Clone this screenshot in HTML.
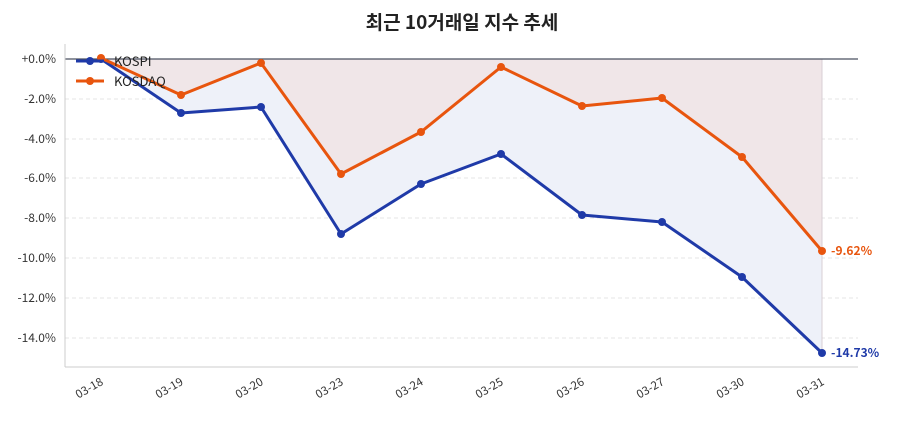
<!DOCTYPE html>
<html><head><meta charset="utf-8"><style>
body{margin:0;background:#fff}
svg text{font-family:"Noto Sans CJK KR","Liberation Sans",sans-serif}
</style></head><body>
<svg width="900" height="420" viewBox="0 0 900 420" xmlns="http://www.w3.org/2000/svg">
<text x="462" y="29" text-anchor="middle" font-size="19" font-weight="bold" fill="#222">최근 10거래일 지수 추세</text>
<g stroke="#e4e4e4" stroke-dasharray="4,3" stroke-width="1">
<line x1="65" x2="858" y1="99" y2="99"/><line x1="65" x2="858" y1="139" y2="139"/>
<line x1="65" x2="858" y1="178" y2="178"/><line x1="65" x2="858" y1="218" y2="218"/>
<line x1="65" x2="858" y1="258" y2="258"/><line x1="65" x2="858" y1="298" y2="298"/>
<line x1="65" x2="858" y1="338" y2="338"/>
</g>
<polygon fill="#eef1f9" points="101,59 101,59 181,113 261,107 341,234 421,184 501,154 582,215 662,222 742,277 822,353 822,59"/>
<polygon fill="#f0e6e8" points="101,59 101,58 181,95 261,63 341,174 421,132 501,67 582,106 662,98 742,157 822,251 822,59"/>
<line x1="822" x2="822" y1="59" y2="353" stroke="#d8cfd4" stroke-width="1"/>
<line x1="65" x2="858" y1="59" y2="59" stroke="#4a5060" stroke-width="1.2"/>
<line x1="65" x2="65" y1="44" y2="367" stroke="#ccc"/>
<line x1="65" x2="858" y1="367" y2="367" stroke="#ccc"/>
<g font-size="12" fill="#333" text-anchor="end">
<text x="56" y="63">+0.0%</text><text x="56" y="103">-2.0%</text><text x="56" y="143">-4.0%</text>
<text x="56" y="182">-6.0%</text><text x="56" y="222">-8.0%</text><text x="56" y="262">-10.0%</text>
<text x="56" y="302">-12.0%</text><text x="56" y="342">-14.0%</text>
</g>
<g font-size="11.5" fill="#333" text-anchor="end">
<text transform="translate(104,384) rotate(-30)">03-18</text>
<text transform="translate(184,384) rotate(-30)">03-19</text>
<text transform="translate(264,384) rotate(-30)">03-20</text>
<text transform="translate(344,384) rotate(-30)">03-23</text>
<text transform="translate(424,384) rotate(-30)">03-24</text>
<text transform="translate(504,384) rotate(-30)">03-25</text>
<text transform="translate(585,384) rotate(-30)">03-26</text>
<text transform="translate(665,384) rotate(-30)">03-27</text>
<text transform="translate(745,384) rotate(-30)">03-30</text>
<text transform="translate(825,384) rotate(-30)">03-31</text>
</g>
<polyline fill="none" stroke="#1f3aa8" stroke-width="3" stroke-linejoin="round" points="101,59 181,113 261,107 341,234 421,184 501,154 582,215 662,222 742,277 822,353"/>
<g fill="#1f3aa8"><circle cx="101" cy="59" r="4"/><circle cx="181" cy="113" r="4"/><circle cx="261" cy="107" r="4"/><circle cx="341" cy="234" r="4"/><circle cx="421" cy="184" r="4"/><circle cx="501" cy="154" r="4"/><circle cx="582" cy="215" r="4"/><circle cx="662" cy="222" r="4"/><circle cx="742" cy="277" r="4"/><circle cx="822" cy="353" r="4"/></g>
<polyline fill="none" stroke="#e8550e" stroke-width="3" stroke-linejoin="round" points="101,58 181,95 261,63 341,174 421,132 501,67 582,106 662,98 742,157 822,251"/>
<g fill="#e8550e"><circle cx="101" cy="58" r="4"/><circle cx="181" cy="95" r="4"/><circle cx="261" cy="63" r="4"/><circle cx="341" cy="174" r="4"/><circle cx="421" cy="132" r="4"/><circle cx="501" cy="67" r="4"/><circle cx="582" cy="106" r="4"/><circle cx="662" cy="98" r="4"/><circle cx="742" cy="157" r="4"/><circle cx="822" cy="251" r="4"/></g>
<line x1="76" x2="104" y1="61" y2="61" stroke="#1f3aa8" stroke-width="3"/><circle cx="90" cy="61" r="4" fill="#1f3aa8"/>
<text x="114" y="66" font-size="13" fill="#222">KOSPI</text>
<line x1="76" x2="104" y1="81" y2="81" stroke="#e8550e" stroke-width="3"/><circle cx="90" cy="81" r="4" fill="#e8550e"/>
<text x="114" y="86" font-size="13" fill="#222">KOSDAQ</text>
<text x="831" y="255" font-size="12" font-weight="bold" fill="#e8550e">-9.62%</text>
<text x="831" y="357" font-size="12" font-weight="bold" fill="#1f3aa8">-14.73%</text>
</svg>
</body></html>
